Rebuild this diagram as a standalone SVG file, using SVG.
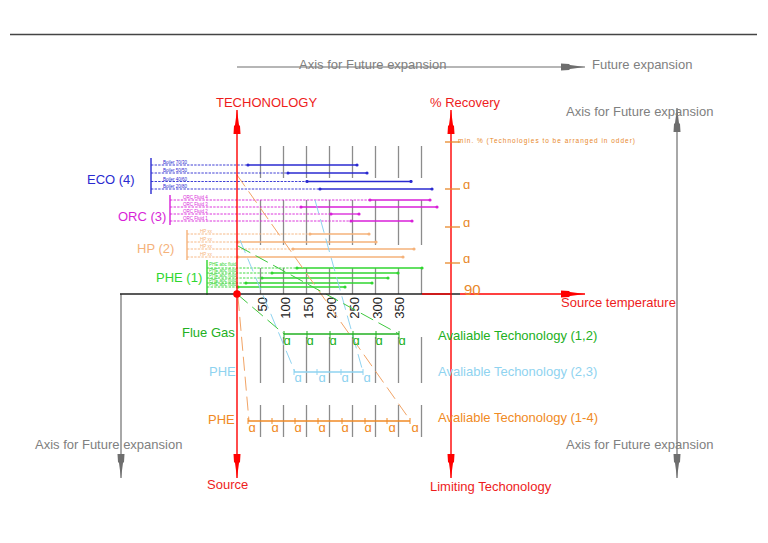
<svg xmlns="http://www.w3.org/2000/svg" width="768" height="543" viewBox="0 0 768 543">
<style>
text{font-family:"Liberation Sans",Arial,sans-serif;}
.lbl{font-size:13px;}
.gt{fill:#808080;}
.rt{fill:#ee1c1c;}
.grid line{stroke:#8c8c8c;stroke-width:1.3;}
.eco line{stroke:#2a2ad0;} .eco text{fill:#2a2ad0;}
.orc line{stroke:#d81fd8;} .orc text{fill:#d81fd8;}
.hp line{stroke:#f5b27a;} .hp text{fill:#f5b27a;}
.phe line{stroke:#2fd62f;} .phe text{fill:#2fd62f;}
.d{stroke-dasharray:2.4,1.2;stroke-width:0.9;}
.s{stroke-width:1.3;}
.br{stroke-width:1.4;}
.tiny{font-size:4.5px;}
.conn line{fill:none;stroke-width:1;stroke-dasharray:14,6;}
</style>
<defs>
<marker id="ar" viewBox="0 0 24 8" refX="24" refY="4" markerWidth="24" markerHeight="8" markerUnits="userSpaceOnUse" orient="auto-start-reverse"><path d="M0,0.5 L8,1 L9,2 L24,4 L9,6 L8,7 L0,7.5Z" fill="#f00"/></marker>
<marker id="ag" viewBox="0 0 24 8" refX="24" refY="4" markerWidth="24" markerHeight="8" markerUnits="userSpaceOnUse" orient="auto-start-reverse"><path d="M0,0.5 L8,1 L9,2 L24,4 L9,6 L8,7 L0,7.5Z" fill="#6e6e6e"/></marker>
<marker id="db" viewBox="0 0 4 4" refX="2" refY="2" markerWidth="4" markerHeight="4" markerUnits="userSpaceOnUse"><circle cx="2" cy="2" r="1.6" fill="#2a2ad0"/></marker>
<marker id="dm" viewBox="0 0 4 4" refX="2" refY="2" markerWidth="4" markerHeight="4" markerUnits="userSpaceOnUse"><circle cx="2" cy="2" r="1.6" fill="#d81fd8"/></marker>
<marker id="dh" viewBox="0 0 4 4" refX="2" refY="2" markerWidth="4" markerHeight="4" markerUnits="userSpaceOnUse"><circle cx="2" cy="2" r="1.6" fill="#f5b27a"/></marker>
<marker id="dg" viewBox="0 0 4 4" refX="2" refY="2" markerWidth="4" markerHeight="4" markerUnits="userSpaceOnUse"><circle cx="2" cy="2" r="1.6" fill="#2fd62f"/></marker>
</defs>

<line x1="10" y1="34.5" x2="757" y2="34.5" stroke="#444" stroke-width="1.5"/>

<g id="grid" class="grid">
<line x1="260.5" y1="146" x2="260.5" y2="178"/><line x1="283.5" y1="146" x2="283.5" y2="178"/><line x1="306.5" y1="146" x2="306.5" y2="178"/><line x1="329.5" y1="146" x2="329.5" y2="178"/><line x1="352.5" y1="146" x2="352.5" y2="178"/><line x1="375.5" y1="146" x2="375.5" y2="178"/><line x1="398.5" y1="146" x2="398.5" y2="178"/><line x1="421.5" y1="146" x2="421.5" y2="178"/>
<line x1="260.5" y1="200" x2="260.5" y2="245"/><line x1="283.5" y1="200" x2="283.5" y2="245"/><line x1="306.5" y1="200" x2="306.5" y2="245"/><line x1="329.5" y1="200" x2="329.5" y2="245"/><line x1="352.5" y1="200" x2="352.5" y2="245"/><line x1="375.5" y1="200" x2="375.5" y2="245"/><line x1="398.5" y1="200" x2="398.5" y2="245"/><line x1="421.5" y1="200" x2="421.5" y2="245"/>
<line x1="260.5" y1="268" x2="260.5" y2="294"/><line x1="283.5" y1="268" x2="283.5" y2="294"/><line x1="306.5" y1="268" x2="306.5" y2="294"/><line x1="329.5" y1="268" x2="329.5" y2="294"/><line x1="352.5" y1="268" x2="352.5" y2="294"/><line x1="375.5" y1="268" x2="375.5" y2="294"/><line x1="398.5" y1="268" x2="398.5" y2="294"/><line x1="421.5" y1="268" x2="421.5" y2="294"/>
<line x1="260.5" y1="337" x2="260.5" y2="383"/><line x1="283.5" y1="337" x2="283.5" y2="383"/><line x1="306.5" y1="337" x2="306.5" y2="383"/><line x1="329.5" y1="337" x2="329.5" y2="383"/><line x1="352.5" y1="337" x2="352.5" y2="383"/><line x1="375.5" y1="337" x2="375.5" y2="383"/><line x1="398.5" y1="337" x2="398.5" y2="383"/><line x1="421.5" y1="337" x2="421.5" y2="383"/>
<line x1="260.5" y1="405" x2="260.5" y2="437"/><line x1="283.5" y1="405" x2="283.5" y2="437"/><line x1="306.5" y1="405" x2="306.5" y2="437"/><line x1="329.5" y1="405" x2="329.5" y2="437"/><line x1="352.5" y1="405" x2="352.5" y2="437"/><line x1="375.5" y1="405" x2="375.5" y2="437"/><line x1="398.5" y1="405" x2="398.5" y2="437"/><line x1="421.5" y1="405" x2="421.5" y2="437"/>
</g>

<g id="scale" font-size="13" fill="#222">
<text transform="translate(267,297) rotate(-90)" text-anchor="end">50</text>
<text transform="translate(290,297) rotate(-90)" text-anchor="end">100</text>
<text transform="translate(313,297) rotate(-90)" text-anchor="end">150</text>
<text transform="translate(336,297) rotate(-90)" text-anchor="end">200</text>
<text transform="translate(359,297) rotate(-90)" text-anchor="end">250</text>
<text transform="translate(382,297) rotate(-90)" text-anchor="end">300</text>
<text transform="translate(404,297) rotate(-90)" text-anchor="end">350</text>
</g>

<g id="eco" class="eco">
<text class="lbl" x="87" y="184">ECO (4)</text>
<line class="br" x1="151" y1="158" x2="151" y2="194"/>
<line class="d" x1="151" y1="165" x2="248" y2="165"/><line class="s" x1="248" y1="165" x2="357" y2="165" marker-start="url(#db)" marker-end="url(#db)"/>
<line class="d" x1="151" y1="173" x2="288" y2="173"/><line class="s" x1="288" y1="173" x2="367" y2="173" marker-start="url(#db)" marker-end="url(#db)"/>
<line class="d" x1="151" y1="181.5" x2="307" y2="181.5"/><line class="s" x1="307" y1="181.5" x2="411" y2="181.5" marker-start="url(#db)" marker-end="url(#db)"/>
<line class="d" x1="151" y1="189" x2="320" y2="189"/><line class="s" x1="320" y1="189" x2="432" y2="189" marker-start="url(#db)" marker-end="url(#db)"/>
<text class="tiny" x="163" y="164">Boiler 70/30</text>
<text class="tiny" x="163" y="172">Boiler 50/50</text>
<text class="tiny" x="163" y="180.5">Boiler 40/60</text>
<text class="tiny" x="163" y="188">Boiler 20/80</text>
</g>

<g id="orc" class="orc">
<text class="lbl" x="118" y="221">ORC (3)</text>
<line class="br" x1="170" y1="195" x2="170" y2="225"/>
<line class="d" x1="170" y1="200" x2="370" y2="200"/><line class="s" x1="370" y1="200" x2="430" y2="200" marker-start="url(#dm)" marker-end="url(#dm)"/>
<line class="d" x1="170" y1="207" x2="301" y2="207"/><line class="s" x1="301" y1="207" x2="437" y2="207" marker-start="url(#dm)" marker-end="url(#dm)"/>
<line class="d" x1="170" y1="214" x2="331" y2="214"/><line class="s" x1="331" y1="214" x2="359" y2="214" marker-start="url(#dm)" marker-end="url(#dm)"/>
<line class="d" x1="170" y1="221" x2="351" y2="221"/><line class="s" x1="351" y1="221" x2="412" y2="221" marker-start="url(#dm)" marker-end="url(#dm)"/>
<text class="tiny" x="183" y="199">ORC Fluid 4</text>
<text class="tiny" x="183" y="206">ORC Fluid 3</text>
<text class="tiny" x="183" y="213">ORC Fluid 2</text>
<text class="tiny" x="183" y="220">ORC Fluid 1</text>
</g>

<g id="hp" class="hp">
<text class="lbl" x="137" y="253">HP (2)</text>
<line class="br" x1="187" y1="230" x2="187" y2="260"/>
<line class="d" x1="187" y1="234" x2="310" y2="234"/><line class="s" x1="310" y1="234" x2="369" y2="234" marker-start="url(#dh)" marker-end="url(#dh)"/>
<line class="d" x1="187" y1="242" x2="238" y2="242"/><line class="s" x1="238" y1="242" x2="376" y2="242" marker-start="url(#dh)" marker-end="url(#dh)"/>
<line class="d" x1="187" y1="249" x2="293" y2="249"/><line class="s" x1="293" y1="249" x2="414" y2="249" marker-start="url(#dh)" marker-end="url(#dh)"/>
<line class="d" x1="187" y1="257" x2="238" y2="257"/><line class="s" x1="238" y1="257" x2="403" y2="257" marker-start="url(#dh)" marker-end="url(#dh)"/>
<text class="tiny" x="200" y="233">HP xx</text>
<text class="tiny" x="200" y="241">HP xx</text>
<text class="tiny" x="200" y="248">HP xx</text>
<text class="tiny" x="200" y="256">HP xx</text>
</g>

<g id="phe1" class="phe">
<text class="lbl" x="156" y="282">PHE (1)</text>
<line class="br" x1="207" y1="260" x2="207" y2="295"/>
<line class="d" x1="207" y1="268" x2="297" y2="268"/><line class="s" x1="297" y1="268" x2="422" y2="268" marker-start="url(#dg)" marker-end="url(#dg)"/>
<line class="d" x1="207" y1="273" x2="272" y2="273"/><line class="s" x1="272" y1="273" x2="398" y2="273" marker-start="url(#dg)" marker-end="url(#dg)"/>
<line class="d" x1="207" y1="278" x2="262" y2="278"/><line class="s" x1="262" y1="278" x2="388" y2="278" marker-start="url(#dg)" marker-end="url(#dg)"/>
<line class="d" x1="207" y1="283" x2="246" y2="283"/><line class="s" x1="246" y1="283" x2="372" y2="283" marker-start="url(#dg)" marker-end="url(#dg)"/>
<line class="d" x1="207" y1="287" x2="238" y2="287"/><line class="s" x1="238" y1="287" x2="345" y2="287" marker-start="url(#dg)" marker-end="url(#dg)"/>
<text class="tiny" x="209" y="265.5">PHE abc fluid</text>
<text class="tiny" x="209" y="272">PHE abc fluid</text>
<text class="tiny" x="209" y="277">PHE abc fluid</text>
<text class="tiny" x="209" y="282">PHE abc fluid</text>
<text class="tiny" x="209" y="286">PHE abc fluid</text>
</g>

<g id="connectors" class="conn">
<line x1="237" y1="175" x2="410" y2="420" stroke="#f2a466"/>
<line x1="238" y1="297" x2="249" y2="421" stroke="#f2a466"/>
<line x1="240" y1="240" x2="295" y2="372" stroke="#8fd3f0"/>
<line x1="315" y1="200" x2="363" y2="372" stroke="#8fd3f0"/>
<line x1="238" y1="246" x2="399" y2="334" stroke="#3fc83f"/>
<line x1="237" y1="294" x2="284" y2="334" stroke="#3fc83f"/>
</g>

<g id="axes">
<line x1="237" y1="67" x2="585" y2="67" stroke="#6e6e6e" stroke-width="1.2" marker-end="url(#ag)"/>
<line x1="121" y1="294" x2="121" y2="478" stroke="#6e6e6e" stroke-width="1.2" marker-end="url(#ag)"/>
<line x1="677" y1="108" x2="677" y2="478" stroke="#6e6e6e" stroke-width="1.2" marker-start="url(#ag)" marker-end="url(#ag)"/>
<line x1="120" y1="294" x2="460" y2="294" stroke="#222" stroke-width="1.4"/>
<line x1="422" y1="294" x2="450" y2="294" stroke="#f00" stroke-width="1.4"/>
<line x1="460" y1="294" x2="585" y2="294" stroke="#f00" stroke-width="1.4" marker-end="url(#ar)"/>
<line x1="237" y1="110" x2="237" y2="478" stroke="#f00" stroke-width="1.4" marker-start="url(#ar)" marker-end="url(#ar)"/>
<line x1="451" y1="110" x2="451" y2="478" stroke="#f00" stroke-width="1.4" marker-start="url(#ar)" marker-end="url(#ar)"/>
<circle cx="237" cy="294" r="3.8" fill="#f00"/>
</g>

<g id="recovery" stroke="#e8882a" stroke-width="1.3">
<line x1="445" y1="142" x2="460" y2="142"/>
<line x1="445" y1="189" x2="460" y2="189"/>
<line x1="445" y1="227" x2="460" y2="227"/>
<line x1="445" y1="263" x2="460" y2="263"/>
</g>
<g id="recovery-labels" fill="#e8882a">
<text x="458" y="143" font-size="6.5" textLength="177" lengthAdjust="spacing">min. % (Technologies to be arranged in odder)</text>
<text class="lbl" x="463" y="189">ɑ</text>
<text class="lbl" x="463" y="227">ɑ</text>
<text class="lbl" x="463" y="263">ɑ</text>
<text x="464" y="295" font-size="15">90</text>
</g>

<g id="flue" stroke="#22b022" fill="#22b022">
<line x1="284" y1="334" x2="399" y2="334" stroke-width="1.3"/>
<line x1="284" y1="331" x2="284" y2="339"/><line x1="307" y1="331" x2="307" y2="339"/><line x1="330" y1="331" x2="330" y2="339"/><line x1="353" y1="331" x2="353" y2="339"/><line x1="376" y1="331" x2="376" y2="339"/><line x1="399" y1="331" x2="399" y2="339"/>
<g stroke="none" class="lbl" text-anchor="middle" font-size="13">
<text x="287" y="345">ɑ</text><text x="310" y="345">ɑ</text><text x="333" y="345">ɑ</text><text x="356" y="345">ɑ</text><text x="379" y="345">ɑ</text><text x="402" y="345">ɑ</text>
<text x="182" y="337" text-anchor="start">Flue Gas</text>
<text x="438" y="340" text-anchor="start">Avaliable Techonology (1,2)</text>
</g>
</g>

<g id="phe23" stroke="#8fd3f0" fill="#8fd3f0">
<line x1="294" y1="372" x2="363" y2="372" stroke-width="1.3"/>
<line x1="294" y1="369" x2="294" y2="375"/><line x1="317" y1="369" x2="317" y2="375"/><line x1="341" y1="369" x2="341" y2="375"/><line x1="363" y1="369" x2="363" y2="375"/>
<g stroke="none" text-anchor="middle" font-size="13">
<text x="298" y="382">ɑ</text><text x="322" y="382">ɑ</text><text x="345" y="382">ɑ</text><text x="367" y="382">ɑ</text>
<text x="209" y="376" text-anchor="start">PHE</text>
<text x="438" y="376" text-anchor="start">Avaliable Techonology (2,3)</text>
</g>
</g>

<g id="phe14" stroke="#f08a24" fill="#f08a24">
<line x1="248" y1="421" x2="410" y2="421" stroke-width="1.3"/>
<line x1="248" y1="418" x2="248" y2="424"/><line x1="272" y1="418" x2="272" y2="424"/><line x1="295" y1="418" x2="295" y2="424"/><line x1="318" y1="418" x2="318" y2="424"/><line x1="342" y1="418" x2="342" y2="424"/><line x1="365" y1="418" x2="365" y2="424"/><line x1="387" y1="418" x2="387" y2="424"/><line x1="410" y1="418" x2="410" y2="424"/>
<g stroke="none" text-anchor="middle" font-size="13">
<text x="252" y="432">ɑ</text><text x="275" y="432">ɑ</text><text x="298" y="432">ɑ</text><text x="322" y="432">ɑ</text><text x="345" y="432">ɑ</text><text x="368" y="432">ɑ</text><text x="392" y="432">ɑ</text><text x="415" y="432">ɑ</text>
<text x="208" y="424" text-anchor="start">PHE</text>
<text x="438" y="422" text-anchor="start">Avaliable Techonology (1-4)</text>
</g>
</g>

<g id="labels" class="lbl">
<text class="gt" x="299" y="69">Axis for Future expansion</text>
<text class="gt" x="592" y="69">Future expansion</text>
<text class="gt" x="566" y="116">Axis for Future expansion</text>
<text class="gt" x="35" y="449">Axis for Future expansion</text>
<text class="gt" x="566" y="449">Axis for Future expansion</text>
<text class="rt" x="216" y="107">TECHONOLOGY</text>
<text class="rt" x="430" y="107">% Recovery</text>
<text class="rt" x="561" y="307">Source temperature</text>
<text class="rt" x="207" y="489">Source</text>
<text class="rt" x="430" y="491">Limiting Techonology</text>
</g>
</svg>
